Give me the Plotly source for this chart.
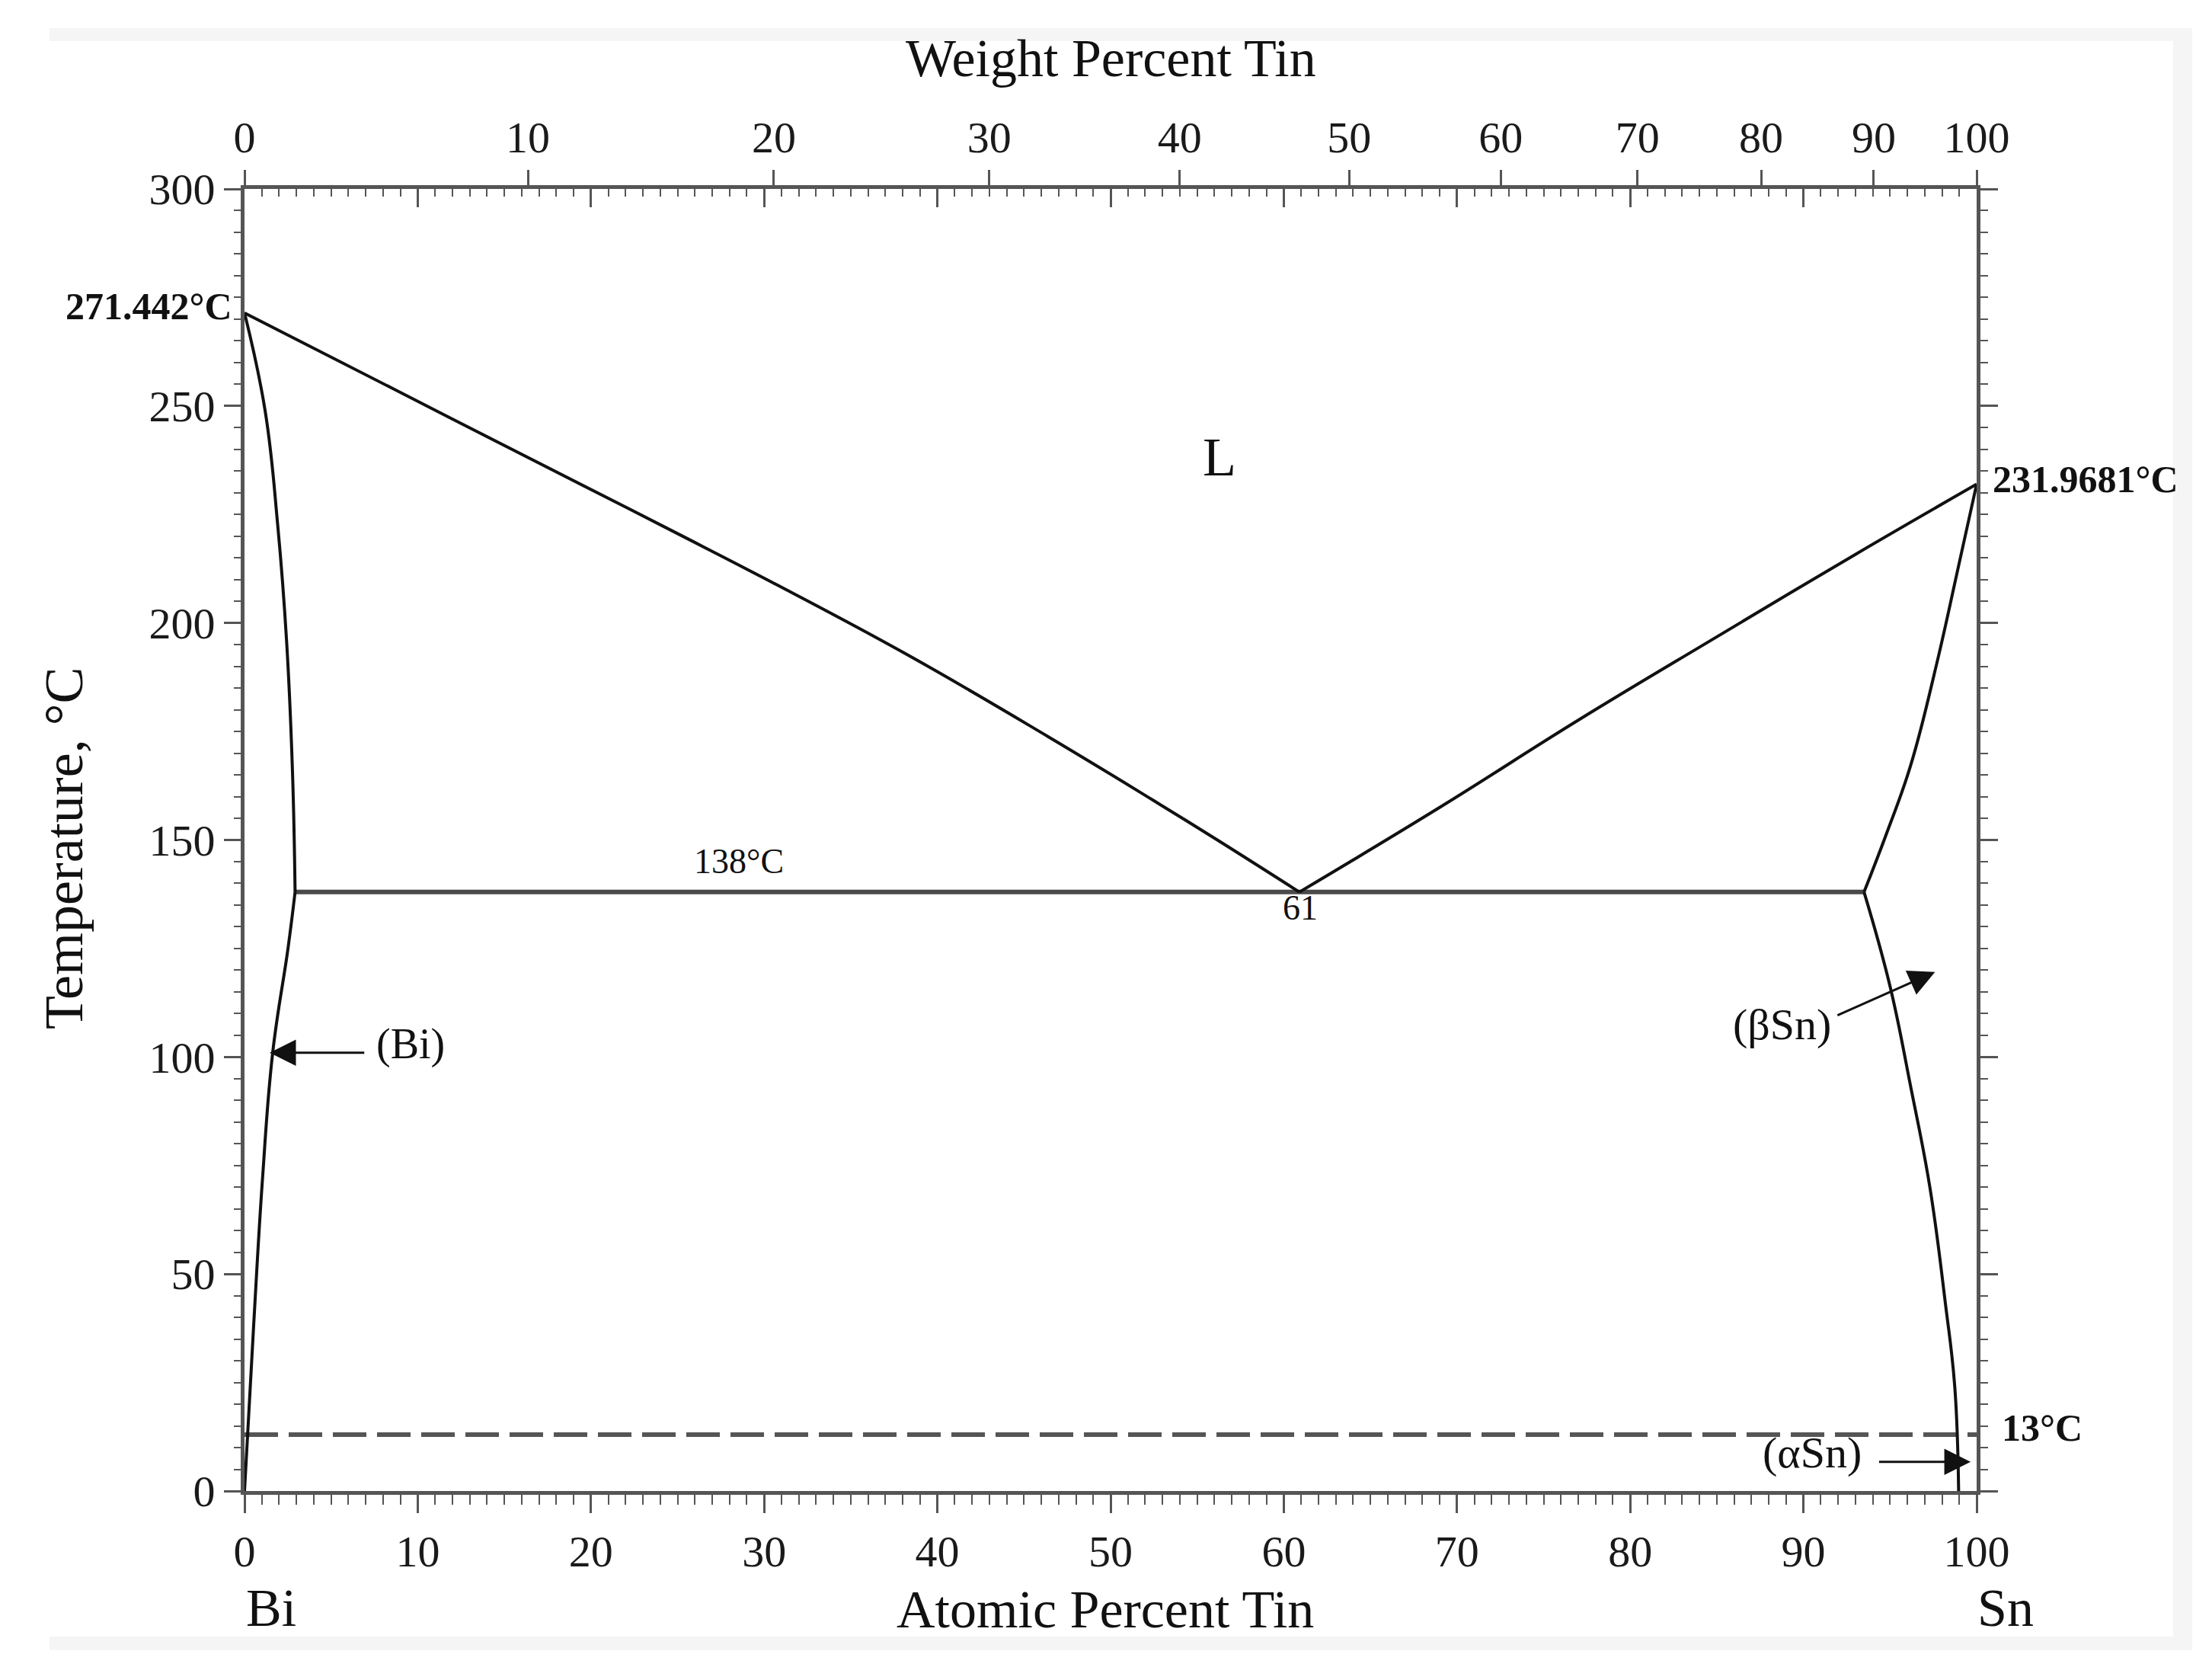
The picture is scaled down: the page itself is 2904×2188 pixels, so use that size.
import plotly.graph_objects as go

# ---------------- data ----------------
# Bi-side liquidus (atomic % Sn, °C)
liq_bi_x = [0, 12.0, 24.7, 30.2, 38.3, 46.4, 52.4, 56.2, 60.9]
liq_bi_t = [271.442, 247.0, 221.2, 209.9, 192.6, 173.8, 159.3, 149.9, 138.0]
# Sn-side liquidus
liq_sn_x = [60.9, 69.0, 77.0, 85.0, 93.0, 100.0]
liq_sn_t = [138.0, 157.5, 177.6, 196.8, 215.8, 231.9681]
# (Bi) solidus and solvus
sol_bi_x = [0, 1.19, 1.92, 2.43, 2.77, 2.92]
sol_bi_t = [271.442, 248.9, 222.4, 195.8, 165.7, 138.0]
solv_bi_x = [2.92, 2.51, 1.63, 1.04, 0.53, 0.0]
solv_bi_t = [138.0, 125.0, 101.1, 72.0, 38.3, 0.0]
# (βSn) solidus and solvus
sol_sn_x = [100.0, 98.95, 97.7, 96.2, 94.8, 93.5]
sol_sn_t = [231.9681, 213.0, 190.7, 167.3, 151.5, 138.0]
solv_sn_x = [93.5, 95.0, 96.2, 97.3, 98.2, 98.74, 98.96]
solv_sn_t = [138.0, 116.3, 93.0, 70.0, 43.1, 23.9, 0.0]
# eutectic isotherm and alpha/beta Sn transformation
eut_x = [2.92, 93.5]
eut_t = [138.0, 138.0]
trans_x = [0, 100]
trans_t = [13.0, 13.0]

# top axis: weight-percent labels and their atomic-percent positions
wt_labels = ["0", "10", "20", "30", "40", "50", "60", "70", "80", "90", "100"]
wt_pos_at = [0, 16.36, 30.56, 43.0, 53.99, 63.77, 72.53, 80.42, 87.56, 94.06, 100]

# ---------------- styling ----------------
FONT = "Liberation Serif"
AX = "#555555"
INK = "#111111"
W, H = 2904, 2188
L, R, T, B = 313, 317, 240, 239

fig = go.Figure()

def line(x, y, color=INK, width=4, dash=None, smooth=True):
    ln = dict(color=color, width=width, dash=dash)
    if smooth:
        ln.update(shape="spline", smoothing=1.2)
    fig.add_trace(go.Scatter(x=x, y=y, mode="lines", showlegend=False, hoverinfo="skip", line=ln))

line(trans_x, trans_t, color=AX, width=6, dash="44px,14px", smooth=False)
line(eut_x, eut_t, color="#4a4a4a", width=6, smooth=False)
line(liq_bi_x, liq_bi_t)
line(liq_sn_x, liq_sn_t)
line(sol_bi_x, sol_bi_t)
line(solv_bi_x, solv_bi_t)
line(sol_sn_x, sol_sn_t)
line(solv_sn_x, solv_sn_t)

# dummy traces so that the overlaying axes are drawn
fig.add_trace(go.Scatter(x=[None], y=[None], xaxis="x2", yaxis="y", showlegend=False, hoverinfo="skip"))
fig.add_trace(go.Scatter(x=[None], y=[None], xaxis="x3", yaxis="y", showlegend=False, hoverinfo="skip"))
fig.add_trace(go.Scatter(x=[None], y=[None], xaxis="x", yaxis="y2", showlegend=False, hoverinfo="skip"))

tickfont = dict(family=FONT, size=58, color="#1a1a1a")

fig.update_layout(
    width=W, height=H,
    margin=dict(l=L, r=R, t=T, b=B, pad=0),
    paper_bgcolor="white", plot_bgcolor="white",
    showlegend=False,
    font=dict(family=FONT, color=INK),
    xaxis=dict(range=[0, 100], showgrid=False, zeroline=False, showline=True,
               linecolor=AX, linewidth=5, ticks="outside", ticklen=24, tickwidth=3,
               tickcolor=AX, tick0=0, dtick=10, tickfont=tickfont,
               minor=dict(ticks="outside", ticklen=13, tickwidth=2, tickcolor=AX, dtick=1, showgrid=False)),
    xaxis2=dict(range=[0, 100], overlaying="x", side="top", anchor="y", showgrid=False,
                zeroline=False, showline=True, linecolor=AX, linewidth=5,
                ticks="inside", ticklen=24, tickwidth=3, tickcolor=AX, tick0=0, dtick=10,
                showticklabels=False,
                minor=dict(ticks="inside", ticklen=10, tickwidth=2, tickcolor=AX, dtick=1, showgrid=False)),
    xaxis3=dict(range=[0, 100], overlaying="x", side="top", anchor="y", showgrid=False,
                zeroline=False, showline=False, ticks="outside", ticklen=24, tickwidth=3,
                tickcolor=AX, tickmode="array", tickvals=wt_pos_at, ticktext=wt_labels,
                tickfont=tickfont),
    yaxis=dict(range=[0, 300], showgrid=False, zeroline=False, showline=True,
               linecolor=AX, linewidth=5, ticks="outside", ticklen=22, tickwidth=3,
               tickcolor=AX, tick0=0, dtick=50, tickfont=tickfont,
               minor=dict(ticks="outside", ticklen=9, tickwidth=2, tickcolor=AX, dtick=5, showgrid=False)),
    yaxis2=dict(range=[0, 300], overlaying="y", side="right", anchor="x", showgrid=False,
                zeroline=False, showline=True, linecolor=AX, linewidth=5,
                ticks="outside", ticklen=23, tickwidth=3, tickcolor=AX, tick0=0, dtick=50,
                showticklabels=False,
                minor=dict(ticks="outside", ticklen=10, tickwidth=2, tickcolor=AX, dtick=5, showgrid=False)),
)

# light grey frame bands around the image
def px_x(p):
    return (p - L) / (W - L - R)

def px_y(p):
    return (H - B - p) / (H - T - B)

frame = "#f5f5f5"
fig.add_shape(type="rect", xref="paper", yref="paper", layer="below",
              x0=px_x(57), x1=px_x(2870), y0=px_y(46), y1=px_y(29), fillcolor=frame, line_width=0)
fig.add_shape(type="rect", xref="paper", yref="paper", layer="below",
              x0=px_x(57), x1=px_x(2870), y0=px_y(2158), y1=px_y(2140), fillcolor=frame, line_width=0)
fig.add_shape(type="rect", xref="paper", yref="paper", layer="below",
              x0=px_x(2845), x1=px_x(2870), y0=px_y(2158), y1=px_y(29), fillcolor=frame, line_width=0)

def ptext(text, x, y, size, xanchor="center", yanchor="middle", bold=False, angle=0, xref="paper", yref="paper"):
    fig.add_annotation(text=f"<b>{text}</b>" if bold else text, x=x, y=y, xref=xref, yref=yref,
                       showarrow=False, xanchor=xanchor, yanchor=yanchor, textangle=angle,
                       font=dict(family=FONT, size=size, color=INK))

# axis titles and element labels
ptext("Weight Percent Tin", 0.5, px_y(69), 70)
ptext("Atomic Percent Tin", 0.497, px_y(2104), 70)
ptext("Bi", px_x(313), px_y(2102), 70, xanchor="left")
ptext("Sn", px_x(2586), px_y(2102), 70, xanchor="left")
ptext("Temperature, °C", px_x(76), px_y(1105), 72, angle=-90)

# temperature call-outs
ptext("271.442°C", px_x(299), 273.0, 50, xanchor="right", bold=True, yref="y")
ptext("231.9681°C", px_x(2606), 233.2, 50, xanchor="left", bold=True, yref="y")
ptext("13°C", px_x(2618), 14.6, 50, xanchor="left", bold=True, yref="y")

# labels inside the plot
ptext("L", 56.3, 238.2, 72, xref="x", yref="y")
ptext("138°C", 28.55, 145.0, 46, xref="x", yref="y")
ptext("61", 60.97, 134.3, 46, xref="x", yref="y")
ptext("(Bi)", 9.6, 103.0, 56, xref="x", yref="y")
ptext("(βSn)", 88.75, 107.6, 58, xref="x", yref="y")
ptext("(αSn)", 90.5, 8.8, 58, xref="x", yref="y")

# arrows: (tail_x, tail_t, tip_x, tip_t)
arrow_tail_x = [6.98, 91.9, 94.3]
arrow_tail_t = [101.0, 109.5, 6.7]
arrow_tip_x = [1.45, 97.6, 99.65]
arrow_tip_t = [101.0, 119.6, 6.7]
for tx, tt, hx, ht in zip(arrow_tail_x, arrow_tail_t, arrow_tip_x, arrow_tip_t):
    fig.add_annotation(x=hx, y=ht, ax=tx, ay=tt, xref="x", yref="y", axref="x", ayref="y",
                       text="", showarrow=True, arrowhead=2, arrowsize=2.3, arrowwidth=3,
                       arrowcolor=INK, standoff=0, startstandoff=0)

fig.write_html("out.html")
